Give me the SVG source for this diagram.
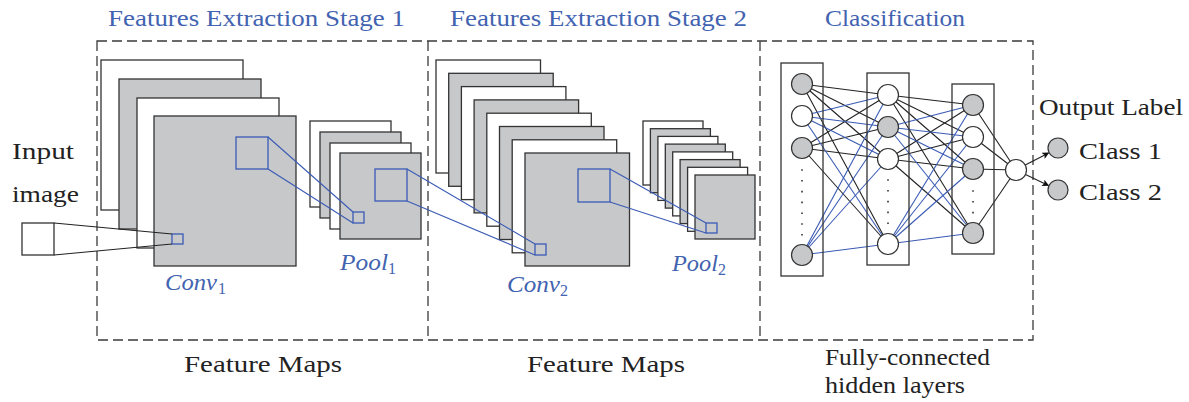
<svg xmlns="http://www.w3.org/2000/svg" width="1189" height="402" viewBox="0 0 1189 402">
  <style>
    .txt { font-family: "Liberation Serif", "DejaVu Serif", serif; fill: #222; font-size: 23px; }
    .title { font-family: "Liberation Serif", "DejaVu Serif", serif; fill: #4263b0; font-size: 23px; }
    .math { font-family: "Liberation Serif", "DejaVu Serif", serif; fill: #4263b0; font-size: 23px; font-style: italic; }
    .sub { font-family: "Liberation Serif", "DejaVu Serif", serif; fill: #4263b0; font-size: 16px; }
    .fw { fill: #ffffff; stroke: #333; stroke-width: 1.3; }
    .fg { fill: #c7c8ca; stroke: #333; stroke-width: 1.3; }
    .frame { fill: none; stroke: #3a3a3a; stroke-width: 1.3; stroke-dasharray: 10 5; }
    .bsq { fill: none; stroke: #3a5bb5; stroke-width: 1.3; }
    .bl { stroke: #3a5bb5; stroke-width: 1.1; fill: none; }
    .kl { stroke: #222; stroke-width: 1.1; fill: none; }
    .layer { fill: none; stroke: #333; stroke-width: 1.3; }
    .nw { fill: #ffffff; stroke: #333; stroke-width: 1.2; }
    .ng { fill: #c7c8ca; stroke: #333; stroke-width: 1.2; }
    .dots { stroke: #333; stroke-width: 1.6; stroke-dasharray: 1.6 9.2; }
  </style>
  <defs>
    <marker id="arrow" viewBox="0 0 10 10" refX="9" refY="5" markerWidth="7" markerHeight="7" markerUnits="userSpaceOnUse" orient="auto">
      <path d="M0,0 L10,5 L0,10 L2.5,5 Z" fill="#111"/>
    </marker>
  </defs>

  <!-- stage titles -->
  <text class="title" x="108" y="26" textLength="297" lengthAdjust="spacingAndGlyphs">Features Extraction Stage 1</text>
  <text class="title" x="450" y="26" textLength="297" lengthAdjust="spacingAndGlyphs">Features Extraction Stage 2</text>
  <text class="title" x="825" y="26" textLength="140" lengthAdjust="spacingAndGlyphs">Classification</text>

  <!-- dashed stage frames -->
  <g id="frames">
    <rect class="frame" x="97" y="41" width="936" height="299"/>
    <line class="frame" x1="428" y1="41" x2="428" y2="340"/>
    <line class="frame" x1="760" y1="41" x2="760" y2="340"/>
  </g>

  <!-- input -->
  <g id="input">
    <text class="txt" x="12" y="159" textLength="62" lengthAdjust="spacingAndGlyphs">Input</text>
    <text class="txt" x="12" y="202" textLength="67" lengthAdjust="spacingAndGlyphs">image</text>
    <rect class="fw" x="22" y="223" width="32" height="32"/>
  </g>

  <!-- convolution 1 feature maps -->
  <g id="conv1">
    <rect class="fw" x="101" y="60" width="142" height="150"/>
    <rect class="fg" x="119" y="79" width="142" height="150"/>
    <rect class="fw" x="137" y="98" width="142" height="150"/>
    <rect class="fg" x="154" y="116" width="142" height="150"/>
    <rect class="bsq" x="236" y="137" width="32" height="32"/>
    <rect class="bsq" x="172" y="234" width="11" height="10"/>
    <text class="math" x="165" y="290" textLength="52" lengthAdjust="spacingAndGlyphs">Conv</text>
    <text class="sub" x="218" y="294">1</text>
  </g>

  <!-- pooling 1 -->
  <g id="pool1">
    <rect class="fw" x="310" y="121" width="81" height="86"/>
    <rect class="fg" x="320" y="132" width="81" height="86"/>
    <rect class="fw" x="330" y="143" width="81" height="86"/>
    <rect class="fg" x="340" y="153" width="81" height="86"/>
    <rect class="bsq" x="353" y="212" width="11" height="11"/>
    <rect class="bsq" x="375" y="169" width="32" height="32"/>
    <text class="math" x="340" y="270" textLength="48" lengthAdjust="spacingAndGlyphs">Pool</text>
    <text class="sub" x="388" y="274">1</text>
  </g>

  <!-- convolution 2 feature maps -->
  <g id="conv2">
    <rect class="fw" x="436" y="60" width="104.5" height="113"/>
    <rect class="fg" x="448.7" y="73.3" width="104.5" height="113"/>
    <rect class="fw" x="461.4" y="86.6" width="104.5" height="113"/>
    <rect class="fg" x="474.1" y="99.9" width="104.5" height="113"/>
    <rect class="fw" x="486.8" y="113.2" width="104.5" height="113"/>
    <rect class="fg" x="499.5" y="126.5" width="104.5" height="113"/>
    <rect class="fw" x="512.2" y="139.8" width="104.5" height="113"/>
    <rect class="fg" x="525" y="153" width="104.5" height="113"/>
    <rect class="bsq" x="578" y="169" width="32" height="33"/>
    <rect class="bsq" x="535" y="244" width="11" height="11"/>
    <text class="math" x="507" y="292" textLength="53" lengthAdjust="spacingAndGlyphs">Conv</text>
    <text class="sub" x="560" y="296">2</text>
  </g>

  <!-- pooling 2 -->
  <g id="pool2">
    <rect class="fw" x="643" y="121" width="60" height="64"/>
    <rect class="fg" x="650.4" y="128.7" width="60" height="64"/>
    <rect class="fw" x="657.9" y="136.4" width="60" height="64"/>
    <rect class="fg" x="665.3" y="144.1" width="60" height="64"/>
    <rect class="fw" x="672.7" y="151.9" width="60" height="64"/>
    <rect class="fg" x="680.1" y="159.6" width="60" height="64"/>
    <rect class="fw" x="687.6" y="167.3" width="60" height="64"/>
    <rect class="fg" x="695" y="175" width="60" height="64"/>
    <rect class="bsq" x="706" y="223" width="11" height="10"/>
    <text class="math" x="672" y="271" textLength="46" lengthAdjust="spacingAndGlyphs">Pool</text>
    <text class="sub" x="718" y="275">2</text>
  </g>

  <!-- receptive-field connectors -->
  <g id="connectors">
    <line class="kl" x1="54" y1="223" x2="172" y2="234"/>
    <line class="kl" x1="54" y1="255" x2="172" y2="244"/>
    <line class="bl" x1="268" y1="137" x2="353" y2="212"/>
    <line class="bl" x1="268" y1="169" x2="353" y2="223"/>
    <line class="bl" x1="407" y1="169" x2="535" y2="244"/>
    <line class="bl" x1="407" y1="201" x2="535" y2="255"/>
    <line class="bl" x1="610" y1="169" x2="706" y2="223"/>
    <line class="bl" x1="610" y1="202" x2="706" y2="233"/>

    <!-- layer 1 to layer 2 -->
    <g class="kl">
      <line x1="802" y1="84" x2="888" y2="95"/>
      <line x1="802" y1="84" x2="888" y2="127"/>
      <line x1="802" y1="84" x2="888" y2="159"/>
      <line x1="802" y1="84" x2="888" y2="244"/>
      <line x1="802" y1="148" x2="888" y2="95"/>
      <line x1="802" y1="148" x2="888" y2="127"/>
      <line x1="802" y1="148" x2="888" y2="159"/>
      <line x1="802" y1="148" x2="888" y2="244"/>
    </g>
    <g class="bl">
      <line x1="802" y1="116" x2="888" y2="95"/>
      <line x1="802" y1="116" x2="888" y2="127"/>
      <line x1="802" y1="116" x2="888" y2="159"/>
      <line x1="802" y1="116" x2="888" y2="244"/>
      <line x1="802" y1="255" x2="888" y2="95"/>
      <line x1="802" y1="255" x2="888" y2="127"/>
      <line x1="802" y1="255" x2="888" y2="159"/>
      <line x1="802" y1="255" x2="888" y2="244"/>
    </g>

    <!-- layer 2 to layer 3 -->
    <g class="kl">
      <line x1="888" y1="95" x2="973" y2="105"/>
      <line x1="888" y1="95" x2="973" y2="137"/>
      <line x1="888" y1="95" x2="973" y2="169"/>
      <line x1="888" y1="95" x2="973" y2="233"/>
      <line x1="888" y1="159" x2="973" y2="105"/>
      <line x1="888" y1="159" x2="973" y2="137"/>
      <line x1="888" y1="159" x2="973" y2="169"/>
      <line x1="888" y1="159" x2="973" y2="233"/>
    </g>
    <g class="bl">
      <line x1="888" y1="127" x2="973" y2="105"/>
      <line x1="888" y1="127" x2="973" y2="137"/>
      <line x1="888" y1="127" x2="973" y2="169"/>
      <line x1="888" y1="127" x2="973" y2="233"/>
      <line x1="888" y1="244" x2="973" y2="105"/>
      <line x1="888" y1="244" x2="973" y2="137"/>
      <line x1="888" y1="244" x2="973" y2="169"/>
      <line x1="888" y1="244" x2="973" y2="233"/>
    </g>

    <!-- layer 3 to output unit -->
    <g class="kl">
      <line x1="973" y1="105" x2="1016" y2="170"/>
      <line x1="973" y1="137" x2="1016" y2="170"/>
      <line x1="973" y1="169" x2="1016" y2="170"/>
      <line x1="973" y1="233" x2="1016" y2="170"/>
    </g>

    <!-- output arrows -->
    <line class="kl" x1="1025.3" y1="165.1" x2="1048.6" y2="152.9" marker-end="url(#arrow)"/>
    <line class="kl" x1="1025.5" y1="174.5" x2="1048.5" y2="185.5" marker-end="url(#arrow)"/>
  </g>

  <!-- fully connected layers -->
  <g id="fc-layer1">
    <rect class="layer" x="781" y="63" width="42" height="213"/>
    <circle class="ng" cx="802" cy="84" r="10.5"/>
    <circle class="nw" cx="802" cy="116" r="10.5"/>
    <circle class="ng" cx="802" cy="148" r="10.5"/>
    <line class="dots" x1="802" y1="169.2" x2="802" y2="237"/>
    <circle class="ng" cx="802" cy="255" r="10.5"/>
  </g>
  <g id="fc-layer2">
    <rect class="layer" x="867" y="73" width="42" height="192"/>
    <circle class="nw" cx="888" cy="95" r="10.5"/>
    <circle class="ng" cx="888" cy="127" r="10.5"/>
    <circle class="nw" cx="888" cy="159" r="10.5"/>
    <line class="dots" x1="888" y1="179.2" x2="888" y2="226"/>
    <circle class="nw" cx="888" cy="244" r="10.5"/>
  </g>
  <g id="fc-layer3">
    <rect class="layer" x="952" y="84" width="42" height="170"/>
    <circle class="ng" cx="973" cy="105" r="10.5"/>
    <circle class="nw" cx="973" cy="137" r="10.5"/>
    <circle class="ng" cx="973" cy="169" r="10.5"/>
    <line class="dots" x1="973" y1="190.2" x2="973" y2="214"/>
    <circle class="ng" cx="973" cy="233" r="10.5"/>
  </g>

  <!-- output -->
  <g id="output-unit">
    <circle class="nw" cx="1016" cy="170" r="10.5"/>
  </g>
  <g id="output-label">
    <text class="txt" x="1039" y="115" textLength="144" lengthAdjust="spacingAndGlyphs">Output Label</text>
  </g>
  <g id="class1">
    <circle class="ng" cx="1058" cy="148" r="10"/>
    <text class="txt" x="1079" y="159" textLength="83" lengthAdjust="spacingAndGlyphs">Class 1</text>
  </g>
  <g id="class2">
    <circle class="ng" cx="1058" cy="190" r="10"/>
    <text class="txt" x="1079" y="200" textLength="83" lengthAdjust="spacingAndGlyphs">Class 2</text>
  </g>

  <!-- captions -->
  <text class="txt" x="184" y="372" textLength="158" lengthAdjust="spacingAndGlyphs">Feature Maps</text>
  <text class="txt" x="527" y="372" textLength="158" lengthAdjust="spacingAndGlyphs">Feature Maps</text>
  <text class="txt" x="825" y="365" textLength="165" lengthAdjust="spacingAndGlyphs">Fully-connected</text>
  <text class="txt" x="825" y="393" textLength="140" lengthAdjust="spacingAndGlyphs">hidden layers</text>
</svg>
